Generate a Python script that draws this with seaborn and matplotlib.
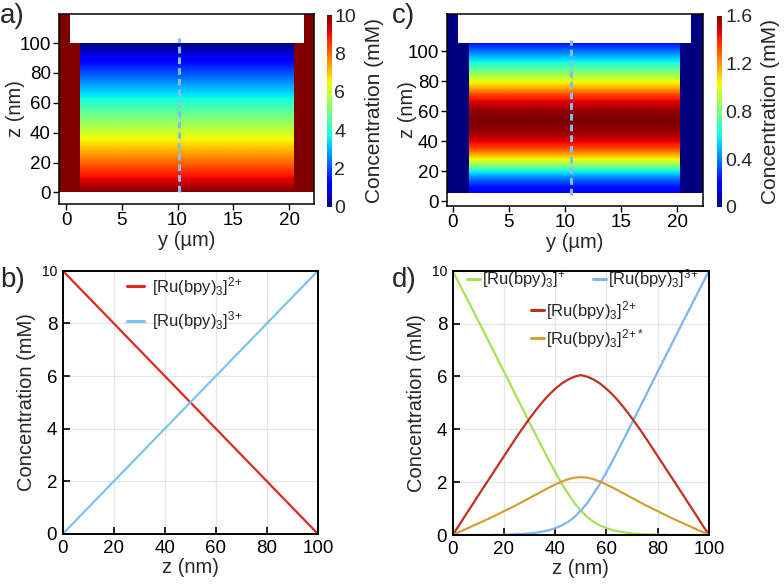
import numpy as np
import pandas as pd
import matplotlib
matplotlib.use("Agg")
import matplotlib.pyplot as plt
import seaborn as sns
from matplotlib.patches import Rectangle
from matplotlib.colors import Normalize
from matplotlib.lines import Line2D

# ---------------- data ----------------
# panel b: linear profiles across the gap
z_b = [0, 100]
ru2_b = [10, 0]
ru3_b = [0, 10]

# panel d: profiles with annihilation reaction
z_d = [0, 2.5, 5, 7.5, 10, 12.5, 15, 17.5, 20, 22.5, 25, 27.5, 30, 32.5, 35, 37.5, 40, 42.5, 45, 47.5,
       50, 52.5, 55, 57.5, 60, 62.5, 65, 67.5, 70, 72.5, 75, 77.5, 80, 82.5, 85, 87.5, 90, 92.5, 95, 97.5, 100]
ru1_d = [10, 9.52, 9.05, 8.57, 8.1, 7.62, 7.14, 6.66, 6.18, 5.7, 5.21, 4.73, 4.25, 3.77, 3.3, 2.83, 2.38, 1.95, 1.57, 1.21,
         0.92, 0.68, 0.5, 0.36, 0.26, 0.18, 0.13, 0.09, 0.06, 0.04, 0.03, 0.02, 0.01, 0.01, 0.0, 0.0, 0.0, 0.0, 0.0, 0.0, 0.0]
ru3_d = [0.0, 0.0, 0.0, 0.0, 0.0, 0.0, 0.0, 0.01, 0.01, 0.02, 0.03, 0.04, 0.06, 0.09, 0.13, 0.18, 0.26, 0.36, 0.5, 0.68,
         0.92, 1.21, 1.57, 1.95, 2.38, 2.83, 3.3, 3.77, 4.25, 4.73, 5.21, 5.7, 6.18, 6.66, 7.14, 7.62, 8.1, 8.57, 9.05, 9.52, 10]
ru2_d = [0, 0.37, 0.75, 1.12, 1.5, 1.87, 2.24, 2.61, 2.98, 3.35, 3.72, 4.07, 4.41, 4.73, 5.03, 5.3, 5.53, 5.73, 5.88, 5.99,
         6.05, 5.99, 5.88, 5.73, 5.53, 5.3, 5.03, 4.73, 4.41, 4.07, 3.72, 3.35, 2.98, 2.61, 2.24, 1.87, 1.5, 1.12, 0.75, 0.37, 0]
ru2s_d = [0, 0.11, 0.22, 0.33, 0.44, 0.55, 0.66, 0.78, 0.9, 1.02, 1.14, 1.27, 1.4, 1.53, 1.66, 1.79, 1.91, 2.02, 2.11, 2.17,
          2.19, 2.17, 2.11, 2.02, 1.91, 1.79, 1.66, 1.53, 1.4, 1.27, 1.14, 1.02, 0.9, 0.78, 0.66, 0.55, 0.44, 0.33, 0.22, 0.11, 0]

# panel c: excited-state concentration map profile (across z)
z_c = [0, 5, 10, 15, 20, 25, 30, 35, 40, 45, 50, 55, 60, 65, 70, 75, 80, 85, 90, 95, 100]
exc_c = [0.15, 0.25, 0.4, 0.62, 0.92, 1.15, 1.35, 1.48, 1.56, 1.6, 1.6, 1.56, 1.48, 1.35, 1.15, 0.98, 0.82, 0.65, 0.5, 0.35, 0.2]

lbl_ru1 = r"[Ru(bpy)$_3$]$^{+}$"
lbl_ru2 = r"[Ru(bpy)$_3$]$^{2\!+}$"
lbl_ru3 = r"[Ru(bpy)$_3$]$^{3\!+}$"
lbl_ru2s = r"[Ru(bpy)$_3$]$^{2\!+\!*}$"

# ---------------- style ----------------
sns.set_theme(style="ticks")
plt.rcParams["font.family"] = ["Liberation Sans", "DejaVu Sans"]
plt.rcParams["mathtext.default"] = "regular"
plt.rcParams["axes.linewidth"] = 1.1
plt.rcParams["axes.edgecolor"] = "black"

W, H = 784, 587
fig = plt.figure(figsize=(W / 100, H / 100), dpi=100)


def add_ax(l, t, r, b):
    return fig.add_axes([l / W, 1 - b / H, (r - l) / W, (b - t) / H])


TICK = 13.5
LAB = 14.5
LEG = 12
jet = plt.get_cmap("jet")
dash_col = "#82bef0"


def style_map_axes(ax):
    ax.tick_params(direction="out", length=4, width=1, labelsize=TICK, pad=2, colors="black")
    for s in ax.spines.values():
        s.set_color("black")
        s.set_linewidth(1.1)


def colorbar(im, cax, ticks, ticklabels):
    cb = fig.colorbar(im, cax=cax)
    cb.outline.set_visible(False)
    cb.set_ticks(ticks)
    cb.set_ticklabels(ticklabels)
    cax.tick_params(length=0, labelsize=TICK + 0.5, pad=2)
    cb.set_label("Concentration (mM)", fontsize=LAB + 0.5, labelpad=6)
    return cb


# ---------------- panel a ----------------
axA = add_ax(59, 14, 314, 204)
xa0, xa1, ya0, ya1 = -0.63, 22.24, -7.7, 119.4
axA.add_patch(Rectangle((xa0, 0), xa1 - xa0, ya1, color=jet(1.0), lw=0, zorder=0))
axA.add_patch(Rectangle((0.36, 100), 21.3 - 0.36, ya1 - 100, color="white", lw=0, zorder=1))
img_a = np.repeat(np.array(ru2_b, dtype=float).reshape(-1, 1), 2, axis=1)
dz = z_b[1] - z_b[0]
imA = axA.imshow(img_a, origin="lower", extent=(-5, 27, z_b[0] - dz / 2, z_b[-1] + dz / 2),
                 aspect="auto", cmap=jet, norm=Normalize(0, 10),
                 interpolation="bilinear", interpolation_stage="data", zorder=2)
imA.set_clip_path(Rectangle((1.25, 0), 20.4 - 1.25, 100, transform=axA.transData))
axA.plot([10.1, 10.1], [0, 103.5], color=dash_col, lw=2.2, ls=(0, (2.2, 1.3)), zorder=3)
axA.set_xlim(xa0, xa1)
axA.set_ylim(ya0, ya1)
axA.set_xticks([0, 5, 10, 15, 20])
axA.set_yticks([0, 20, 40, 60, 80, 100])
axA.set_xlabel("y (µm)", fontsize=LAB, labelpad=1)
axA.set_ylabel("z (nm)", fontsize=LAB)
axA.yaxis.set_label_coords(-0.133, 0.5)
style_map_axes(axA)
caxA = add_ax(326.7, 15, 331.7, 206.7)
colorbar(imA, caxA, [0, 2, 4, 6, 8, 10], ["0", "2", "4", "6", "8", "10"])

# ---------------- panel c ----------------
axC = add_ax(447, 14, 703, 206)
xc0, xc1, yc0, yc1 = -0.51, 22.3, -3.3, 124.7
c_base = 5.3
axC.add_patch(Rectangle((xc0, c_base), xc1 - xc0, yc1 - c_base, color=jet(0.0), lw=0, zorder=0))
axC.add_patch(Rectangle((0.45, c_base + 100), 21.2 - 0.45, yc1 - c_base - 100, color="white", lw=0, zorder=1))
img_c = np.repeat(np.array(exc_c, dtype=float).reshape(-1, 1), 2, axis=1)
dzc = z_c[1] - z_c[0]
imC = axC.imshow(img_c, origin="lower",
                 extent=(-5, 27, c_base + z_c[0] - dzc / 2, c_base + z_c[-1] + dzc / 2),
                 aspect="auto", cmap=jet, norm=Normalize(0, 1.6),
                 interpolation="bilinear", interpolation_stage="data", zorder=2)
imC.set_clip_path(Rectangle((1.43, c_base), 20.2 - 1.43, 100, transform=axC.transData))
axC.plot([10.56, 10.56], [4.0, 107.3], color=dash_col, lw=2.2, ls=(0, (2.2, 1.3)), zorder=3)
axC.set_xlim(xc0, xc1)
axC.set_ylim(yc0, yc1)
axC.set_xticks([0, 5, 10, 15, 20])
axC.set_yticks([0, 20, 40, 60, 80, 100])
axC.set_xlabel("y (µm)", fontsize=LAB, labelpad=1)
axC.set_ylabel("z (nm)", fontsize=LAB)
axC.yaxis.set_label_coords(-0.117, 0.5)
style_map_axes(axC)
caxC = add_ax(717.3, 16, 722.3, 206.7)
colorbar(imC, caxC, [0, 0.4, 0.8, 1.2, 1.6], ["0", "0.4", "0.8", "1.2", "1.6"])


# ---------------- line panels ----------------
def style_line_axes(ax):
    ax.set_xlim(0, 100)
    ax.set_ylim(0, 10)
    ax.set_xticks([0, 20, 40, 60, 80, 100])
    ax.set_yticks([0, 2, 4, 6, 8, 10])
    ax.grid(True, color="#dfe6ec", lw=0.9)
    ax.set_axisbelow(True)
    ax.tick_params(direction="in", length=5, width=1.2, labelsize=TICK, pad=4, colors="black")
    for s in ax.spines.values():
        s.set_visible(True)
        s.set_color("black")
        s.set_linewidth(1.4)
    ax.set_xlabel("z (nm)", fontsize=LAB, labelpad=1)
    ax.set_ylabel("Concentration (mM)", fontsize=LAB, labelpad=4)
    ax.get_yticklabels()[-1].set_fontsize(10)


# panel b
axB = add_ax(62.7, 270.7, 318, 534)
df_b = pd.DataFrame({
    "z": list(z_b) + list(z_b),
    "c": list(ru2_b) + list(ru3_b),
    "species": [lbl_ru2] * len(z_b) + [lbl_ru3] * len(z_b),
})
pal_b = {lbl_ru2: "#dc2a1e", lbl_ru3: "#7cc4ec"}
sns.lineplot(data=df_b, x="z", y="c", hue="species", palette=pal_b, ax=axB, lw=1.6, legend=False)
style_line_axes(axB)
hb = [Line2D([], [], color=pal_b[k], lw=2.2) for k in (lbl_ru2, lbl_ru3)]
axB.legend(hb, [lbl_ru2, lbl_ru3], loc="upper left", bbox_to_anchor=(0.252, 0.985),
           frameon=False, borderpad=0, borderaxespad=0, handlelength=1.0, handletextpad=0.5,
           labelspacing=0.72, fontsize=LEG)

# panel d
axD = add_ax(452.7, 270.7, 709, 535)
df_d = pd.DataFrame({
    "z": list(z_d) * 4,
    "c": list(ru1_d) + list(ru3_d) + list(ru2_d) + list(ru2s_d),
    "species": [lbl_ru1] * len(z_d) + [lbl_ru3] * len(z_d) + [lbl_ru2] * len(z_d) + [lbl_ru2s] * len(z_d),
})
pal_d = {lbl_ru1: "#a6e156", lbl_ru3: "#80b4ec", lbl_ru2: "#c0321e", lbl_ru2s: "#d4a034"}
sns.lineplot(data=df_d, x="z", y="c", hue="species", palette=pal_d, ax=axD, lw=1.6, legend=False)
style_line_axes(axD)
h1 = [Line2D([], [], color=pal_d[k], lw=2.2) for k in (lbl_ru1, lbl_ru3)]
leg1 = axD.legend(h1, [lbl_ru1, lbl_ru3], loc="upper left", bbox_to_anchor=(0.055, 1.013),
                  ncol=2, frameon=False, borderpad=0, borderaxespad=0, handlelength=0.8,
                  handletextpad=0.12, columnspacing=1.6, fontsize=LEG)
axD.add_artist(leg1)
h2 = [Line2D([], [], color=pal_d[k], lw=2.2) for k in (lbl_ru2, lbl_ru2s)]
axD.legend(h2, [lbl_ru2, lbl_ru2s], loc="upper left", bbox_to_anchor=(0.304, 0.894),
           frameon=False, borderpad=0, borderaxespad=0, handlelength=0.8, handletextpad=0.12,
           labelspacing=0.3, fontsize=LEG)

# ---------------- panel letters ----------------
for txt, x, y in [("a)", 0, 16), ("b)", 0, 280), ("c)", 392, 16), ("d)", 392, 280)]:
    fig.text(x / W, 1 - y / H, txt, fontsize=20, ha="left", va="center")

fig.savefig("out.png", dpi=100)
